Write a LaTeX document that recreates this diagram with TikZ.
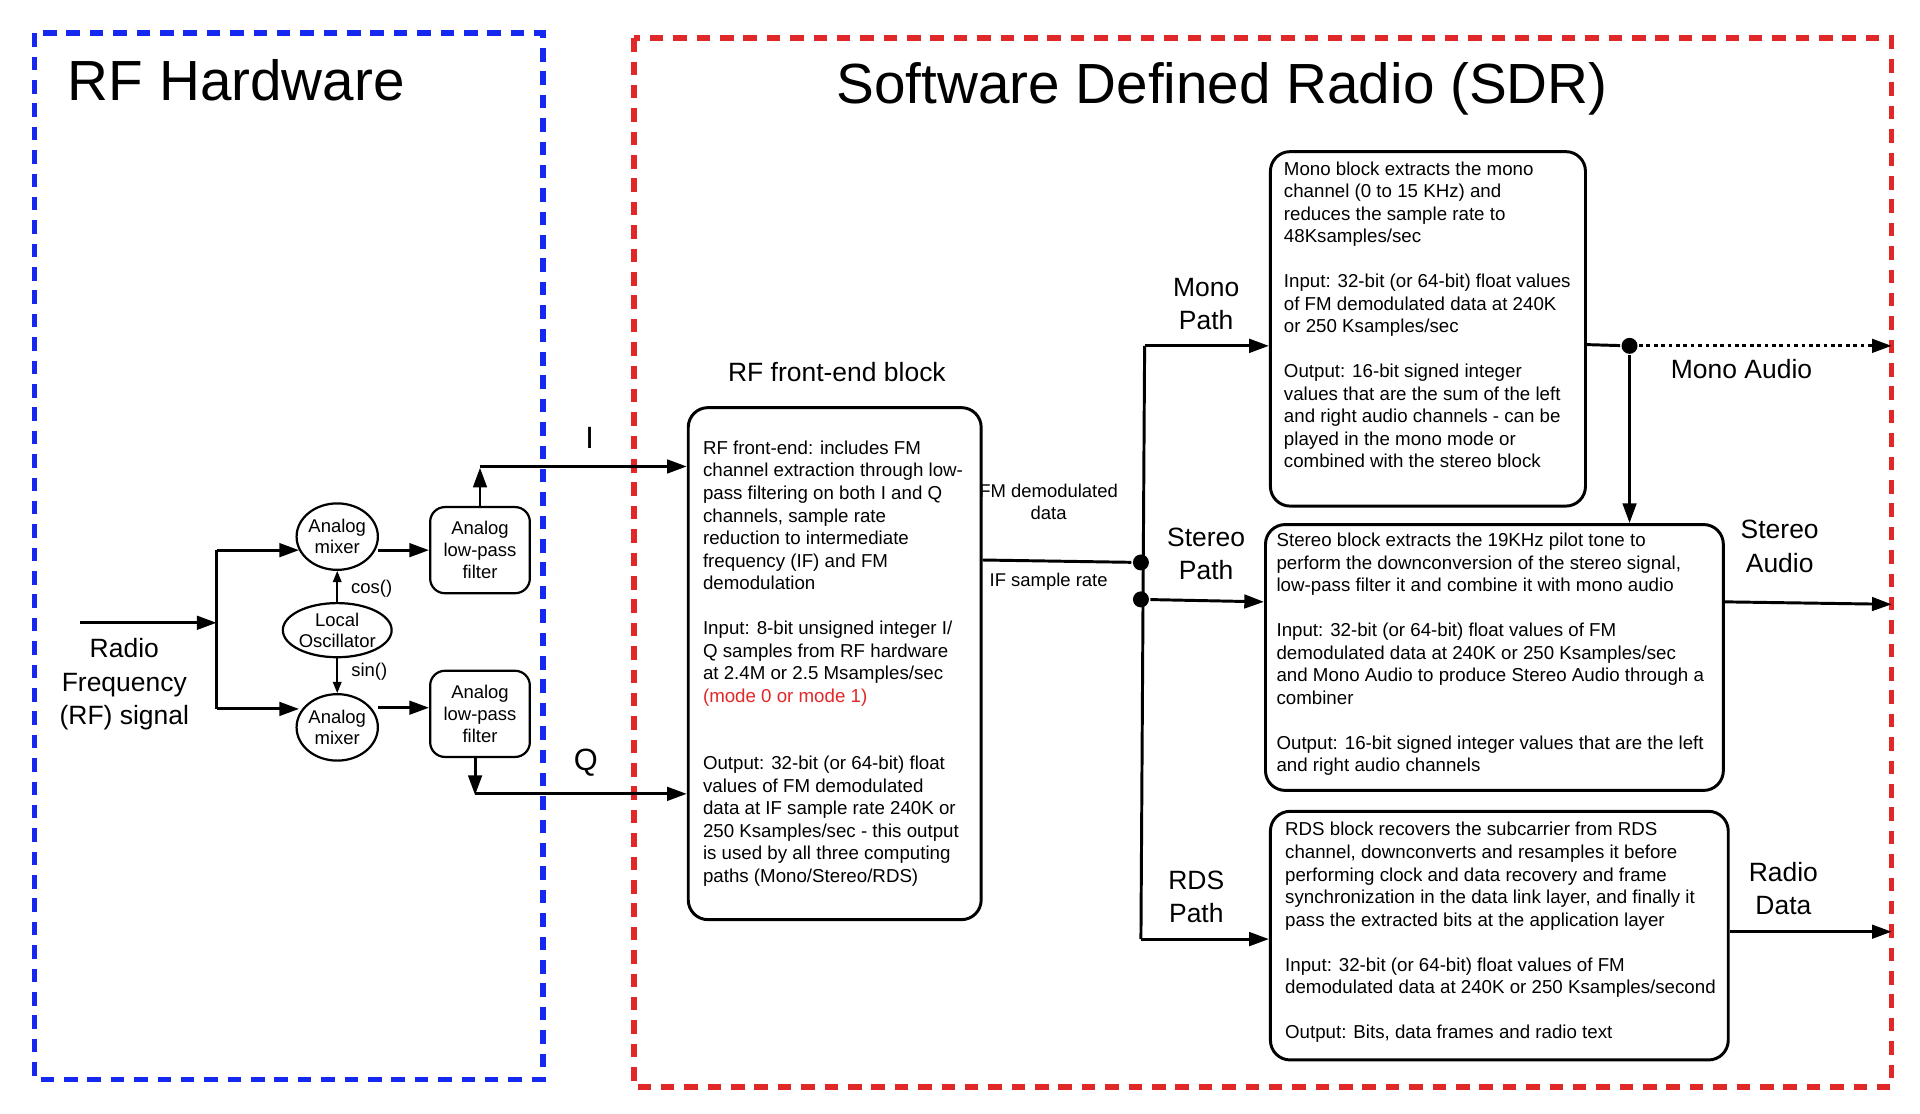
\documentclass[tikz,border=0pt]{standalone}
\usepackage{fontspec}
\setmainfont{Liberation Sans}
\usetikzlibrary{arrows.meta,shapes.geometric}
\definecolor{fblue}{RGB}{20,40,240}
\definecolor{fred}{RGB}{225,40,40}
\begin{document}
\begin{tikzpicture}[x=1pt,y=-1pt,
  line width=2.4pt,
  arr/.style={-{Triangle[length=16pt,width=11pt]}},
  sarr/.style={line width=1.2pt,-{Triangle[length=9pt,width=7pt]}},
  blk/.style={draw,rounded corners=16pt,inner sep=0pt,anchor=north west},
  body/.style={font=\fontsize{15.2}{18.3}\selectfont,align=left,inner sep=0pt},
  small/.style={font=\fontsize{15}{17.5}\selectfont,align=center},
  lab/.style={font=\fontsize{21.5}{27}\selectfont,align=center},
  ttl/.style={font=\fontsize{46}{50}\selectfont},
  dot/.style={circle,fill,inner sep=0pt,minimum size=13pt},
  mix/.style={draw,ellipse,line width=1.8pt,inner sep=0pt,minimum width=64pt,minimum height=54pt,font=\fontsize{15}{17}\selectfont,align=center},
  filt/.style={draw,rounded corners=12pt,line width=1.8pt,minimum width=81pt,minimum height=70pt,font=\fontsize{15}{18}\selectfont,align=center,inner sep=0pt}]
\useasboundingbox (0,0) rectangle (1560,905);
\fill[white] (0,0) rectangle (1560,905);
% frames
\draw[fblue,line width=4.5pt,dash pattern=on 11pt off 8pt] (28,27) rectangle (441,877);
\draw[fred,line width=4.5pt,dash pattern=on 11pt off 8pt] (515,31) rectangle (1537,883);
\node[ttl] (t1) at (192,65) {RF Hardware};
\node[ttl] (t2) at (993,72) {Software Defined Radio (SDR)};
% RF hardware
\node[lab] (rf) at (101,556) {Radio\\Frequency\\(RF) signal};
\coordinate (in) at (65,506);
\coordinate (sp) at (176,506);
\node[mix] (m1) at (274,436) {Analog\\mixer};
\node[mix] (m2) at (274,591) {Analog\\mixer};
\node[draw,ellipse,line width=1.8pt,minimum width=86pt,minimum height=44pt,inner sep=0pt,font=\fontsize{15}{17}\selectfont,align=center] (lo) at (274,512) {Local\\Oscillator};
\node[filt] (f1) at (390,447) {Analog\\low-pass\\filter};
\node[filt] (f2) at (390,580) {Analog\\low-pass\\filter};
\draw[arr] (in) -- (sp);
\draw (176,447) -- (176,576);
\draw[arr] (176,447) -- (243,447);
\draw[arr] (176,576) -- (243,576);
\draw[arr] (307,447) -- (f1.west |- 0,447);
\draw[arr] (307,575) -- (f2.west |- 0,575);
\draw[sarr] (lo.north) -- (m1.south);
\draw[sarr] (lo.south) -- (m2.north);
\node[font=\fontsize{15}{17}\selectfont] (cos) at (302,478) {cos()};
\node[font=\fontsize{15}{17}\selectfont] (sin) at (300,546) {sin()};
% FE block
\node[lab] (feL) at (680,302) {RF front-end block};
\node[blk,minimum width=238pt,minimum height=416pt] (fe) at (558,330) {};
\node[body,anchor=north west] (fet) at (570,357) {RF front-end: includes FM\\channel extraction through low-\\pass filtering on both I and Q\\channels, sample rate\\reduction to intermediate\\frequency (IF) and FM\\demodulation\\[18.3pt]Input: 8-bit unsigned integer I/\\Q samples from RF hardware\\at 2.4M or 2.5 Msamples/sec\\\textcolor{fred}{(mode 0 or mode 1)}\\[36.6pt]Output: 32-bit (or 64-bit) float\\values of FM demodulated\\data at IF sample rate 240K or\\250 Ksamples/sec - this output\\is used by all three computing\\paths (Mono/Stereo/RDS)};
\coordinate (iup) at (390,380);
\coordinate (qdn) at (386,646);
\draw[arr] (f1.north) -- (iup);
\draw[arr] (390,379) -- (fe.west |- 0,379);
\draw[arr] (f2.south -| qdn) -- (qdn);
\draw[arr] (386,645) -- (fe.west |- 0,645);
\node[lab,font=\fontsize{25}{28}\selectfont] (I) at (479,356) {I};
\node[lab,font=\fontsize{25}{28}\selectfont] (Q) at (476,620) {Q};
% split
\node[dot] (d1) at (927,457) {};
\node[dot] (d2) at (927,487) {};
\draw (fe.east |- 0,455) -- (d1);
\node[small] (fmd) at (852,408) {FM demodulated\\data};
\node[small] (ifs) at (852,473) {IF sample rate};
\draw (930,281) -- (927,763);
% blocks
\node[blk,minimum width=256pt,minimum height=288pt] (mono) at (1031,122) {};
\node[body,anchor=north west] (monot) at (1042,130) {Mono block extracts the mono\\channel (0 to 15 KHz) and\\reduces the sample rate to\\48Ksamples/sec\\[18.3pt]Input: 32-bit (or 64-bit) float values\\of FM demodulated data at 240K\\or 250 Ksamples/sec\\[18.3pt]Output: 16-bit signed integer\\values that are the sum of the left\\and right audio channels - can be\\played in the mono mode or\\combined with the stereo block};
\node[blk,minimum width=372pt,minimum height=216pt] (st) at (1027,425) {};
\node[body,anchor=north west] (stt) at (1036,432) {Stereo block extracts the 19KHz pilot tone to\\perform the downconversion of the stereo signal,\\low-pass filter it and combine it with mono audio\\[18.3pt]Input: 32-bit (or 64-bit) float values of FM\\demodulated data at 240K or 250 Ksamples/sec\\and Mono Audio to produce Stereo Audio through a\\combiner\\[18.3pt]Output: 16-bit signed integer values that are the left\\and right audio channels};
\node[blk,minimum width=372pt,minimum height=202pt] (rds) at (1031,658) {};
\node[body,anchor=north west] (rdst) at (1043,667) {RDS block recovers the subcarrier from RDS\\channel, downconverts and resamples it before\\performing clock and data recovery and frame\\synchronization in the data link layer, and finally it\\pass the extracted bits at the application layer\\[18.3pt]Input: 32-bit (or 64-bit) float values of FM\\demodulated data at 240K or 250 Ksamples/second\\[18.3pt]Output: Bits, data frames and radio text};
\draw[arr] (930,281) -- (mono.west |- 0,281);
\draw[arr] (d2) -- (st.west |- 0,489);
\draw[arr] (927,763) -- (rds.west |- 0,763);
\node[lab] (mp) at (980,247) {Mono\\Path};
\node[lab] (sp2) at (980,450) {Stereo\\Path};
\node[lab] (rp) at (972,729) {RDS\\Path};
% outputs
\node[dot] (d3) at (1324,281) {};
\coordinate (oMono) at (1537,281);
\coordinate (oSt) at (1537,491);
\coordinate (oRds) at (1537,757);
\draw (mono.east |- 0,280) -- (d3);
\draw[arr,dashed] (d3) -- (oMono);
\draw[arr] (d3) -- (st.north -| d3);
\draw[arr] (st.east |- 0,489) -- (oSt);
\draw[arr] (rds.east |- 0,757) -- (oRds);
\node[lab] (ma) at (1415,300) {Mono Audio};
\node[lab] (sa) at (1446,444) {Stereo\\Audio};
\node[lab] (rd) at (1449,722) {Radio\\Data};
\end{tikzpicture}
\end{document}
